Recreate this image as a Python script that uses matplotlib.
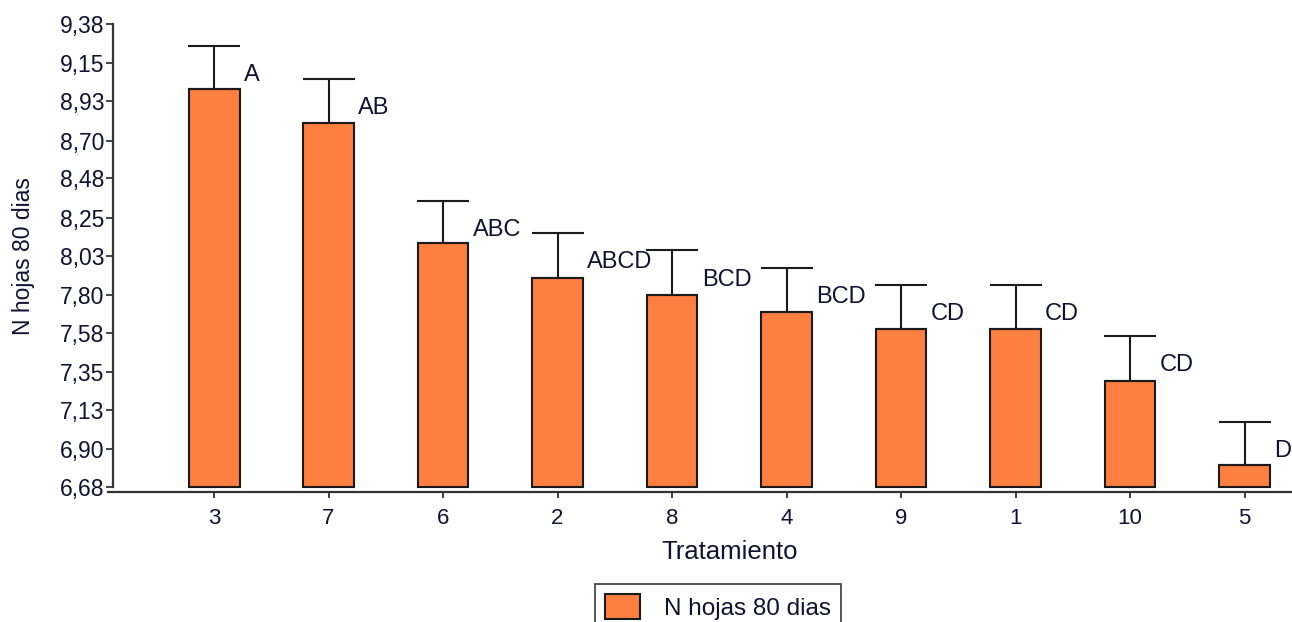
import numpy as np
import matplotlib
matplotlib.use("Agg")
import matplotlib.pyplot as plt

# data
tratamientos = ["3", "7", "6", "2", "8", "4", "9", "1", "10", "5"]
medias = [9.00, 8.80, 8.10, 7.90, 7.80, 7.70, 7.60, 7.60, 7.30, 6.81]
errores = [0.25, 0.26, 0.25, 0.26, 0.26, 0.26, 0.26, 0.26, 0.26, 0.25]
letras = ["A", "AB", "ABC", "ABCD", "BCD", "BCD", "CD", "CD", "CD", "D"]
yticks = [6.68, 6.90, 7.13, 7.35, 7.58, 7.80, 8.03, 8.25, 8.48, 8.70, 8.93, 9.15, 9.38]
ytick_labels = [f"{v:.2f}".replace(".", ",") for v in yticks]
base = yticks[0]

plt.rcParams["font.family"] = ["Liberation Sans", "DejaVu Sans"]

BAR_COLOR = "#FF7F40"
W, H = 1292, 622
fig = plt.figure(figsize=(W / 100, H / 100), dpi=100)
ax = fig.add_axes([108 / W, 1 - 492 / H, (1291 - 108) / W, (492 - 24) / H])

x = np.arange(len(tratamientos))
width = 0.445
ax.bar(x, np.array(medias) - base, width=width, bottom=base, color=BAR_COLOR,
       edgecolor="#1a1a1a", linewidth=1.5, label="N hojas 80 dias", zorder=2)
ax.errorbar(x, medias, yerr=[np.zeros(len(x)), errores], fmt="none",
            ecolor="#1a1a1a", elinewidth=1.5, capsize=18.5, capthick=1.5, zorder=3)

for xi, m, e, lt in zip(x, medias, errores, letras):
    ax.annotate(lt, (xi + width / 2, m + e), xytext=(3, -21),
                textcoords="offset points", ha="left", va="center",
                fontsize=17, color="#111133")

ax.set_xlim(-0.926, 9.406)
ax.set_ylim(base - 5 / 171.5, 9.38)
ax.set_yticks(yticks)
ax.set_yticklabels(ytick_labels)
ax.set_xticks(x)
ax.set_xticklabels(tratamientos)

for s in ["top", "right"]:
    ax.spines[s].set_visible(False)
ax.spines["left"].set_position(("outward", -3.6))
ax.spines["left"].set_bounds(base, 9.38)
for s in ["left", "bottom"]:
    ax.spines[s].set_linewidth(1.6)
    ax.spines[s].set_color("#333333")

ax.tick_params(axis="y", length=5, width=1.3, pad=1, labelsize=16.5,
               colors="#333333", labelcolor="#111133")
ax.tick_params(axis="x", length=4.5, width=1.3, pad=7, labelsize=16,
               colors="#333333", labelcolor="#111133")

ax.set_xlabel("Tratamiento", fontsize=18.5, color="#111133")
ax.set_ylabel("N hojas 80 dias", fontsize=16.5, color="#111133")
x0, x1 = ax.get_xlim()
ax.xaxis.set_label_coords((4.5 - x0) / (x1 - x0), -0.103)
ax.yaxis.set_label_coords(-0.062, 0.505)

leg = fig.legend(loc="upper center", bbox_to_anchor=(718 / W, 1 - 584 / H),
                 frameon=True, fancybox=False, fontsize=17.5, handlelength=1.42,
                 handleheight=1.25, handletextpad=1.0, borderpad=0.4,
                 borderaxespad=0)
leg.get_frame().set_edgecolor("#1a1a1a")
leg.get_frame().set_linewidth(1.3)
for t in leg.get_texts():
    t.set_color("#111133")

fig.savefig("out.png", dpi=100)
